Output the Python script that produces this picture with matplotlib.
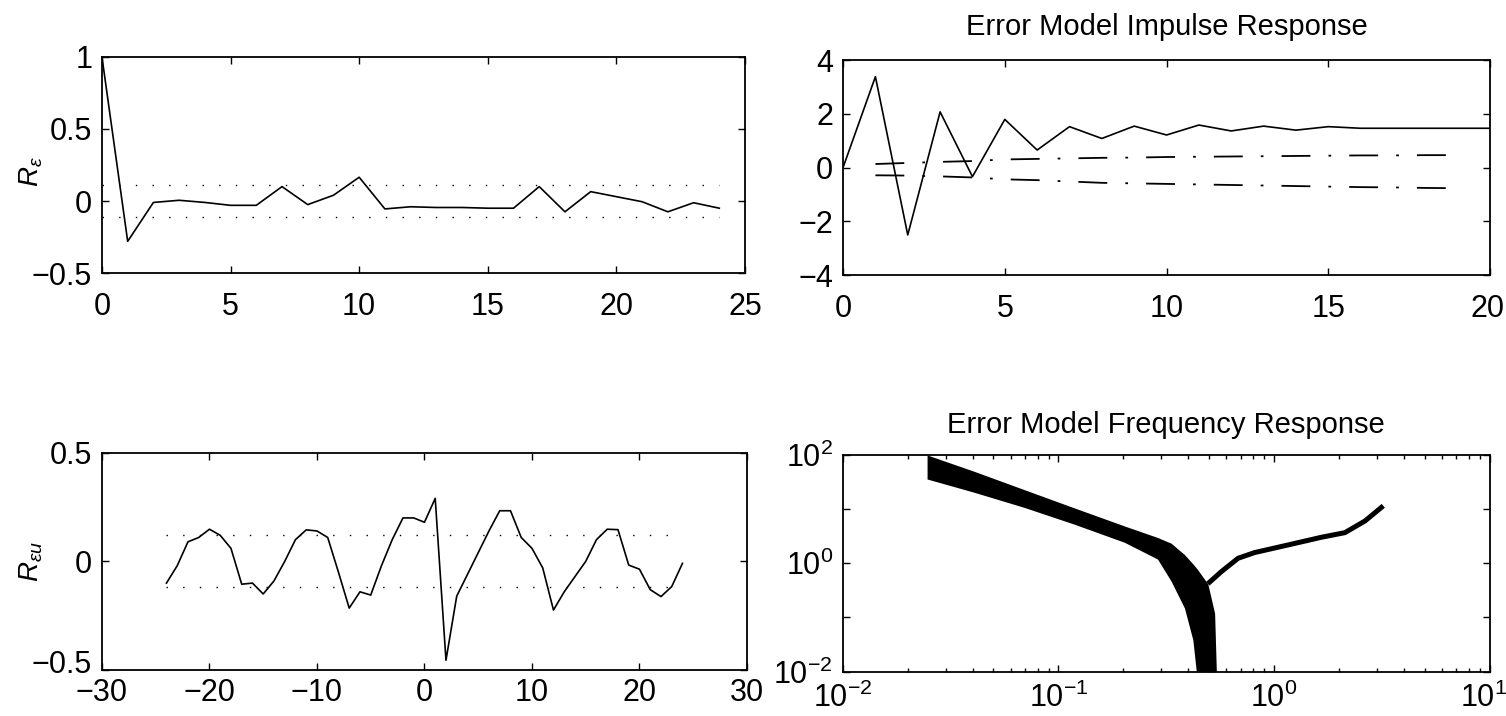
import matplotlib
matplotlib.use("Agg")
import matplotlib.pyplot as plt
import matplotlib.transforms as mtransforms
from matplotlib.ticker import FixedLocator, LogLocator, NullFormatter

# residual autocorrelation R_eps (top left)
res_lags = list(range(0, 25))
res_corr = [1.0, -0.28, -0.01, 0.005, -0.01, -0.03, -0.03, 0.10, -0.025, 0.04,
            0.165, -0.055, -0.04, -0.045, -0.045, -0.05, -0.05, 0.10, -0.075, 0.065,
            0.03, -0.005, -0.075, -0.012, -0.05]
res_conf = 0.11

# error model impulse response (top right)
imp_lags = list(range(0, 21))
imp_resp = [0.0, 3.38, -2.51, 2.07, -0.34, 1.79, 0.65, 1.52, 1.08, 1.54, 1.21,
            1.58, 1.36, 1.54, 1.39, 1.52, 1.46, 1.46, 1.46, 1.46, 1.46]
imp_ci_lags = list(range(1, 20))
imp_ci_upper = [0.13, 0.17, 0.21, 0.24, 0.30, 0.32, 0.34, 0.36, 0.37, 0.39,
                0.40, 0.41, 0.42, 0.43, 0.44, 0.45, 0.45, 0.46, 0.46]
imp_ci_lower = [-0.29, -0.30, -0.33, -0.37, -0.44, -0.47, -0.52, -0.57, -0.59, -0.61,
                -0.63, -0.65, -0.67, -0.69, -0.71, -0.73, -0.74, -0.76, -0.77]

# cross correlation R_eps_u (bottom left)
xc_lags = list(range(-24, 25))
xc_corr = [-0.10, -0.02, 0.09, 0.11, 0.148, 0.12, 0.06, -0.105, -0.10, -0.15,
           -0.09, 0.0, 0.10, 0.145, 0.14, 0.11, -0.05, -0.215, -0.14, -0.155,
           -0.02, 0.10, 0.20, 0.20, 0.18, 0.29, -0.455, -0.16, -0.06, 0.04,
           0.14, 0.233, 0.233, 0.11, 0.06, -0.03, -0.224, -0.14, -0.07, 0.0,
           0.10, 0.148, 0.146, -0.017, -0.036, -0.13, -0.162, -0.116, -0.009]
xc_conf = 0.12

# error model frequency response (bottom right)
band_freq = [0.0246, 0.0406, 0.0692, 0.118, 0.202, 0.288, 0.333, 0.384, 0.420,
             0.436, 0.443, 0.493, 0.530, 0.540]
band_hi = [100, 50.0, 23.0, 10.6, 4.90, 3.0, 2.35, 1.45, 0.98,
           0.82, 0.755, 0.417, 0.120, 0.01]
band_lo = [36.0, 20.5, 10.8, 5.3, 2.45, 1.2, 0.47, 0.15, 0.039,
           0.01, 0.01, 0.01, 0.01, 0.01]
right_freq = [0.493, 0.569, 0.681, 0.813, 1.16, 1.66, 2.13, 2.64, 3.21]
right_mag = [0.42, 0.70, 1.24, 1.58, 2.18, 3.03, 3.68, 6.05, 11.5]

plt.rcParams["font.family"] = ["Liberation Sans", "DejaVu Sans"]
plt.rcParams["mathtext.fontset"] = "custom"
plt.rcParams["mathtext.rm"] = "Liberation Sans"
plt.rcParams["mathtext.it"] = "Liberation Sans:italic"

TICK_SIZE = 22
TITLE_SIZE = 21
DOTS = (0, (1, 11))
DASHDOT = (16, 10, 1.5, 10)


def style_axes(ax, xpad):
    ax.tick_params(which="both", direction="in", top=True, right=True,
                   labelsize=TICK_SIZE, width=1)
    ax.tick_params(which="major", length=5)
    ax.tick_params(which="minor", length=3)
    ax.tick_params(axis="x", which="major", pad=xpad)
    ax.tick_params(axis="y", which="major", pad=7)
    for s in ax.spines.values():
        s.set_linewidth(1.3)


def nudge(label, dx_px, dy_px):
    shift = mtransforms.ScaledTranslation(dx_px / 100, dy_px / 100, fig.dpi_scale_trans)
    label.set_transform(label.get_transform() + shift)


fig = plt.figure(figsize=(15.06, 7.16), dpi=100)

# top left
ax1 = fig.add_axes([0.0677, 0.6187, 0.427, 0.3017])
ax1.plot(res_lags, res_corr, color="black", lw=1.2)
ax1.plot([res_lags[0], res_lags[-1]], [res_conf, res_conf], color="black", lw=1, ls=DOTS)
ax1.plot([res_lags[0], res_lags[-1]], [-res_conf, -res_conf], color="black", lw=1, ls=DOTS)
ax1.set_xlim(0, 25)
ax1.set_ylim(-0.5, 1)
ax1.set_xticks([0, 5, 10, 15, 20, 25])
ax1.set_yticks([-0.5, 0, 0.5, 1])
ax1.set_yticklabels(["\u22120.5", "0", "0.5", "1"])
ax1.set_ylabel(r"$R_\varepsilon$", fontsize=20)
ax1.yaxis.set_label_coords(-0.088, 0.47)
style_axes(ax1, 14)

# top right
ax2 = fig.add_axes([0.5598, 0.6159, 0.4296, 0.3003])
ax2.plot(imp_lags, imp_resp, color="black", lw=1.2)
ax2.plot(imp_ci_lags, imp_ci_upper, color="black", lw=1.3, dashes=DASHDOT)
ax2.plot(imp_ci_lags, imp_ci_lower, color="black", lw=1.3, dashes=DASHDOT)
ax2.set_xlim(0, 20)
ax2.set_ylim(-4, 4)
ax2.set_xticks([0, 5, 10, 15, 20])
ax2.set_yticks([-4, -2, 0, 2, 4])
ax2.set_title("Error Model Impulse Response", fontsize=TITLE_SIZE, pad=18)
style_axes(ax2, 14)
nudge(ax2.get_xticklabels()[-1], -3, 0)

# bottom left
ax3 = fig.add_axes([0.0677, 0.0642, 0.4283, 0.3035])
ax3.plot(xc_lags, xc_corr, color="black", lw=1.2)
ax3.plot([xc_lags[0], xc_lags[-1]], [xc_conf, xc_conf], color="black", lw=1, ls=DOTS)
ax3.plot([xc_lags[0], xc_lags[-1]], [-xc_conf, -xc_conf], color="black", lw=1, ls=DOTS)
ax3.set_xlim(-30, 30)
ax3.set_ylim(-0.5, 0.5)
ax3.set_xticks([-30, -20, -10, 0, 10, 20, 30])
ax3.set_yticks([-0.5, 0, 0.5])
ax3.set_yticklabels(["\u22120.5", "0", "0.5"])
ax3.set_ylabel(r"$R_{\varepsilon u}$", fontsize=20)
ax3.yaxis.set_label_coords(-0.088, 0.5)
style_axes(ax3, 6)
# lift the lowest y label a little so it clears the -30 below it
nudge(ax3.get_yticklabels()[0], 0, 9)

# bottom right
ax4 = fig.add_axes([0.5596, 0.0619, 0.4296, 0.3027])
ax4.fill_between(band_freq, band_lo, band_hi, color="black", lw=0)
ax4.plot(right_freq, right_mag, color="black", lw=3.6, solid_capstyle="butt")
ax4.set_xscale("log")
ax4.set_yscale("log")
ax4.set_xlim(0.01, 10)
ax4.set_ylim(0.01, 100)
ax4.xaxis.set_major_locator(FixedLocator([0.01, 0.1, 1, 10]))
ax4.set_xticklabels([r"$10^{-2}$", r"$10^{-1}$", r"$10^{0}$", r"$10^{1}$"])
ax4.yaxis.set_major_locator(FixedLocator([0.01, 0.1, 1, 10, 100]))
ax4.set_yticklabels([r"$10^{-2}$", "", r"$10^{0}$", "", r"$10^{2}$"])
ax4.yaxis.set_minor_locator(LogLocator(base=10, subs=[]))
ax4.xaxis.set_minor_locator(LogLocator(base=10, subs=range(2, 10)))
ax4.xaxis.set_minor_formatter(NullFormatter())
ax4.set_title("Error Model Frequency Response", fontsize=TITLE_SIZE, pad=16)
style_axes(ax4, 8)
nudge(ax4.get_xticklabels()[-1], -6, 0)

plt.savefig("out.png", dpi=100)
